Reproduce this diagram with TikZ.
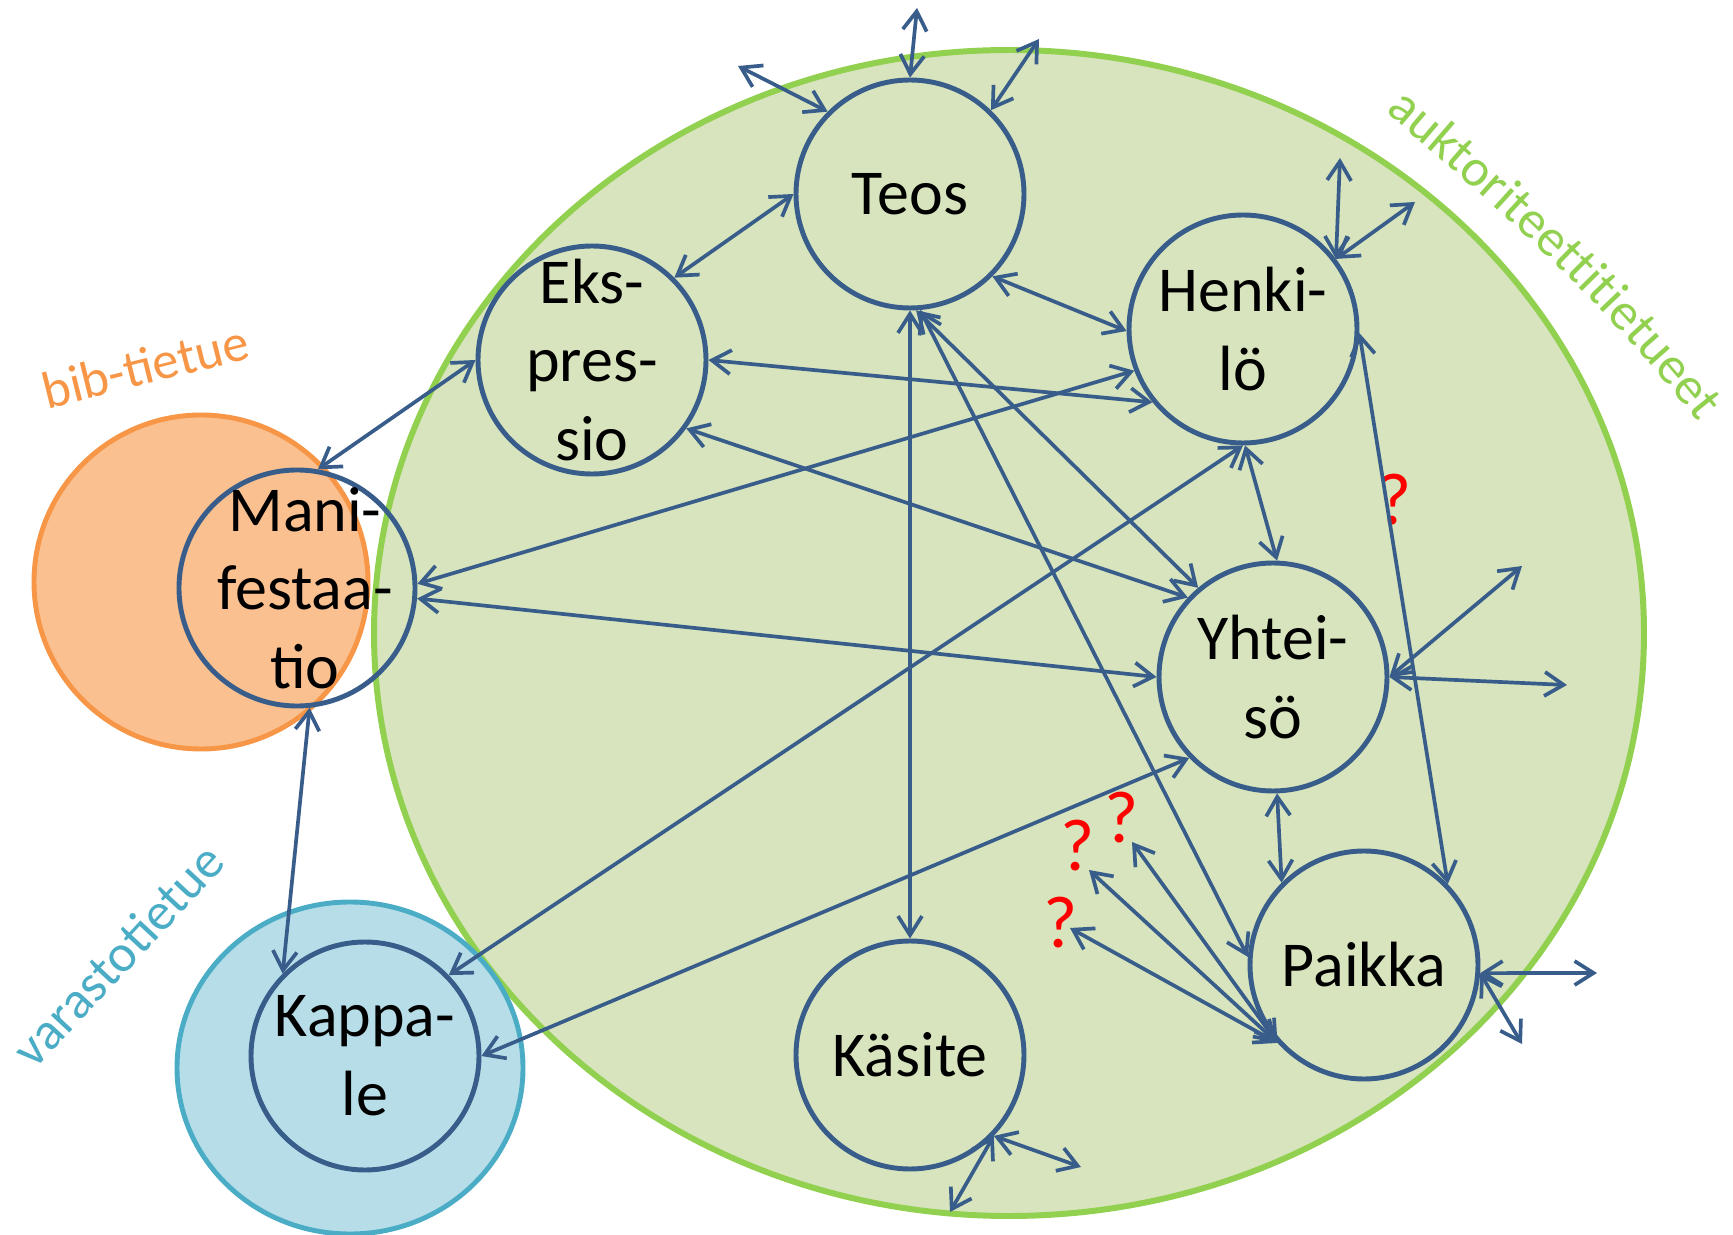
\documentclass[tikz,border=0pt]{standalone}
\usepackage{fontspec}
\setmainfont{Carlito}
\usetikzlibrary{arrows.meta,decorations.text}
\definecolor{lineblue}{RGB}{56,93,138}
\definecolor{akfill}{RGB}{215,228,189}
\definecolor{akline}{RGB}{146,208,80}
\definecolor{bifill}{RGB}{250,192,144}
\definecolor{biline}{RGB}{247,150,70}
\definecolor{vafill}{RGB}{183,222,232}
\definecolor{valine}{RGB}{75,172,198}
\begin{document}
\begin{tikzpicture}[x=0.1mm, y=-0.1mm, >={Straight Barb[length=1.9mm,width=2.4mm]}, line join=round, line cap=round,
	ent/.style={circle, draw=lineblue, line width=1.4pt, minimum size=22.8mm, inner sep=-2.5mm, align=center, font=\fontsize{18.2}{22.4}\selectfont},
	rel/.style={<->, draw=lineblue, line width=1.05pt},
	kys/.style={text=red, font=\fontsize{21}{24}\selectfont},
	ryhma/.style={font=\fontsize{15}{18}\selectfont}]
	\useasboundingbox (0,0) rectangle (1733,1235);
	% taustat
	\fill[akfill] (1009,633) ellipse [x radius=63.5mm, y radius=58.3mm];
	\fill[vafill] (350,1068) ellipse [x radius=17.3mm, y radius=16.6mm];
	\draw[akline, line width=1.7pt] (1009,633) ellipse [x radius=63.5mm, y radius=58.3mm];
	\draw[valine, line width=1.4pt] (350,1068) ellipse [x radius=17.3mm, y radius=16.6mm];
	\filldraw[fill=bifill, draw=biline, line width=1.4pt] (201,582) circle [radius=16.7mm];
	\node[ryhma, rotate=14, text=biline] (bib) at (145,366) {bib-tietue};
	\node[ryhma, rotate=47, text=valine] (varasto) at (118,955) {varastotietue};
	\path[decorate, decoration={text along path, text={|\fontsize{15}{18}\selectfont\color{akline}|auktoriteettitietueet}}]
		(1385,112) .. controls (1490,200) and (1610,305) .. (1720,450);
	% entiteetit
	\node[ent] (teos) at (910,194) {Teos};
	\node[ent] (ekspressio) at (592,360) {Eks-\\pres-\\sio};
	\node[ent] (henkilo) at (1243,329) {Henki-\\lö};
	\node[ent, minimum size=23.6mm] (manif) at (297,588) {\hspace*{1.6mm}Mani-\\\hspace*{1.6mm}festaa-\\\hspace*{1.6mm}tio};
	\node[ent] (yhteiso) at (1273,677) {Yhtei-\\sö};
	\node[ent] (paikka) at (1364,965) {Paikka};
	\node[ent] (kasite) at (910,1055) {Käsite};
	\node[ent] (kappale) at (365,1056) {Kappa-\\le};
	% kysymysmerkit
	\node[kys] (kys1) at (1395,500) {?};
	\node[kys] (kys2) at (1122,818) {?};
	\node[kys] (kys3) at (1078,846) {?};
	\node[kys] (kys4) at (1061,923) {?};
	\coordinate (pk2) at (1132,842);
	\coordinate (pk3) at (1089,870);
	\coordinate (pk4) at (1070,928);
	% ulkoiset
	\coordinate (tv1) at (917,8);
	\coordinate (tv2) at (738,66);
	\coordinate (tv3) at (1039,39);
	\coordinate (hv1) at (1340,158);
	\coordinate (hv2) at (1415,202);
	\coordinate (yv1) at (1522,566);
	\coordinate (yv2) at (1567,685);
	\coordinate (pv1) at (1597,973);
	\coordinate (pv2) at (1522,1044);
	\coordinate (kv1) at (1081,1167);
	\coordinate (kv2) at (950,1212);
	% suhteet
	\draw[rel] (teos.180) -- (ekspressio.45);
	\draw[rel] (teos.-45) -- (henkilo.181);
	\draw[rel] (teos.-90) -- (kasite.90);
	\draw[rel] (teos.-87) -- (yhteiso.130);
	\draw[rel] (teos.-85) -- (paikka.176);
	\draw[rel] (ekspressio.0) -- (henkilo.219);
	\draw[rel] (ekspressio.-36) -- (yhteiso.137);
	\draw[rel] (manif.80) -- (ekspressio.180);
	\draw[rel] (manif.2) -- (henkilo.201);
	\draw[rel] (manif.-5) -- (yhteiso.180);
	\draw[rel] (manif.-84) -- (kappale.135);
	\draw[rel] (kappale.44) -- (henkilo.-90);
	\draw[rel] (kappale.0) -- (yhteiso.224);
	\draw[rel] (henkilo.-89) -- (yhteiso.88);
	\draw[rel] (henkilo.-2) -- (paikka.44);
	\draw[rel] (yhteiso.-88) -- (paikka.135);
	\draw[rel] (paikka.222) -- (pk2);
	\draw[rel] (paikka.222) -- (pk3);
	\draw[rel] (paikka.222) -- (pk4);
	\draw[rel] (teos.90) -- (tv1);
	\draw[rel] (teos.135) -- (tv2);
	\draw[rel] (teos.46) -- (tv3);
	\draw[rel] (henkilo.37) -- (hv1);
	\draw[rel] (henkilo.37) -- (hv2);
	\draw[rel] (yhteiso.0) -- (yv1);
	\draw[rel] (yhteiso.0) -- (yv2);
	\draw[rel] (paikka.-4) -- (pv1);
	\draw[rel] (paikka.-4) -- (pv2);
	\draw[rel] (kasite.-44) -- (kv1);
	\draw[rel] (kasite.-44) -- (kv2);
\end{tikzpicture}
\end{document}
